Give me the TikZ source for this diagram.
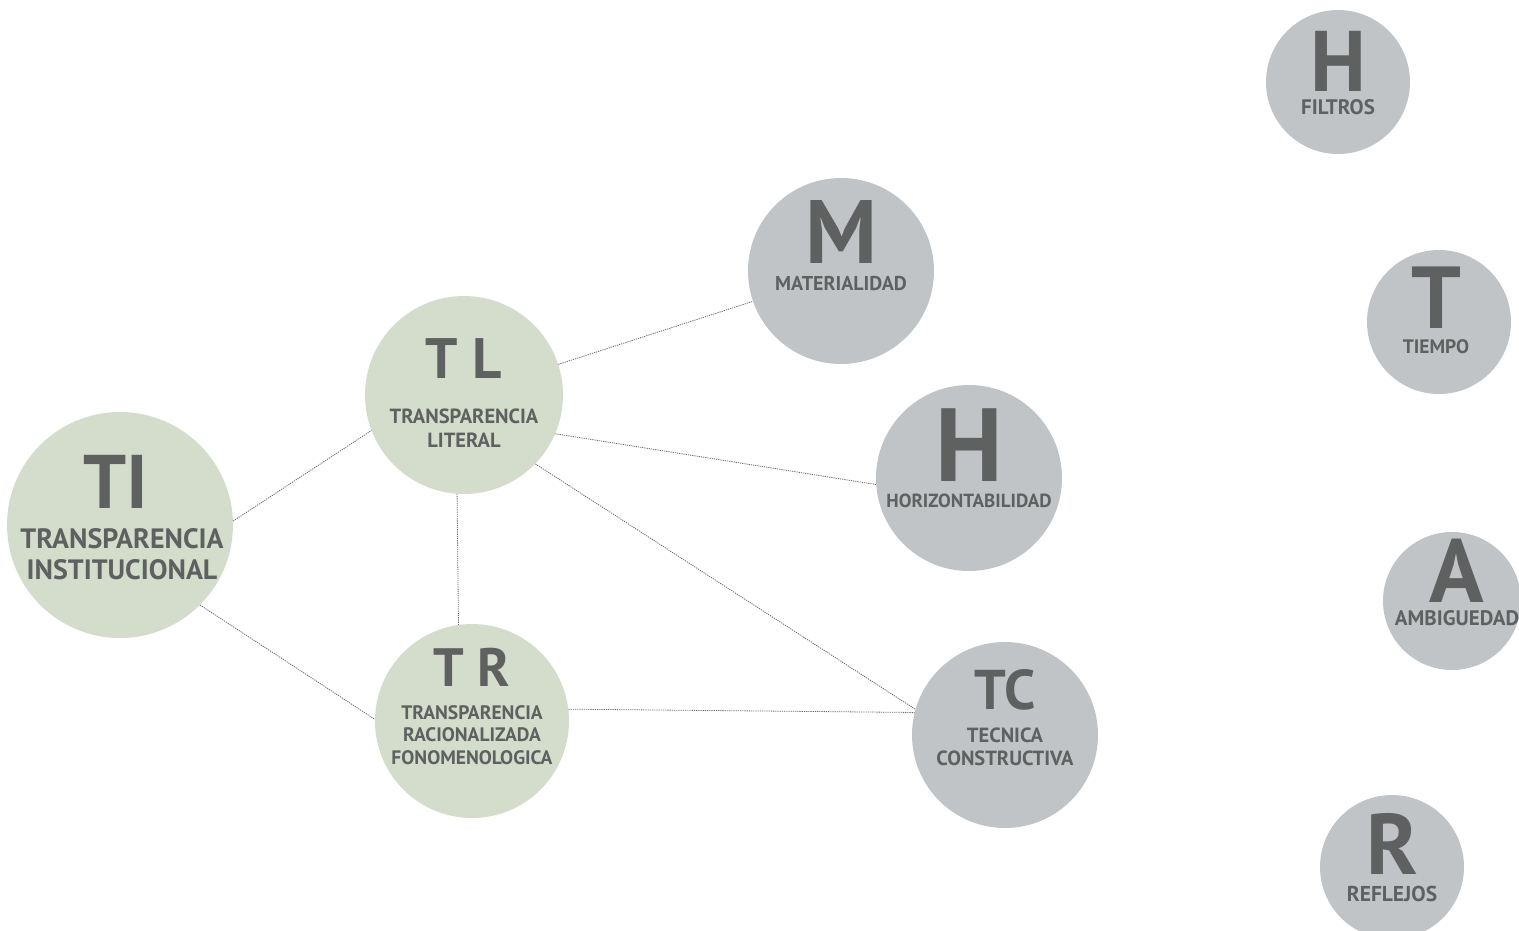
\documentclass[tikz,border=0pt]{standalone}
\usepackage{fontspec}
\setmainfont{PT Sans}
\usetikzlibrary{positioning}
\definecolor{sage}{HTML}{D4DDCC}
\definecolor{stone}{HTML}{C0C4C7}
\definecolor{ink}{HTML}{5F6060}
\definecolor{wire}{HTML}{666666}

\begin{document}
\begin{tikzpicture}[x=1pt,y=-1pt,
  greenball/.style={circle,fill=sage,inner sep=0pt,minimum size=#1},
  grayball/.style={circle,fill=stone,inner sep=0pt,minimum size=#1},
  bigtag/.style={font=\bfseries\fontsize{#1}{#1}\selectfont,text=ink,inner sep=0pt},
  subtag/.style 2 args={font=\bfseries\fontsize{#1}{#2}\selectfont,text=ink,align=center,inner sep=0pt},
  link/.style={draw=wire,line width=0.8pt,dash pattern=on 1.2pt off 1pt}]
\path[use as bounding box,clip] (0,0) rectangle (1519,930);
% circles
\node[greenball=226pt] (ti) at (120,525) {};
\node[greenball=198pt] (tl) at (464,395) {};
\node[greenball=194pt] (tr) at (472,721) {};
\node[grayball=186pt] (m) at (841,271) {};
\node[grayball=186pt] (h) at (969,478) {};
\node[grayball=186pt] (tc) at (1005,735) {};
\node[grayball=144pt] (hf) at (1338,82) {};
\node[grayball=144pt] (t) at (1439,322) {};
\node[grayball=138pt] (a) at (1452,601) {};
\node[grayball=144pt] (r) at (1392,867) {};
% labels
\node[bigtag=76pt] (ti-k) at ([xshift=-4pt,yshift=43.5pt]ti.center) {TI};
\node[subtag={28pt}{31pt}] (ti-s) at ([xshift=2pt,yshift=-29.5pt]ti.center) {TRANSPARENCIA\\INSTITUCIONAL};
\node[bigtag=57pt] (tl-k) at ([yshift=36pt]tl.center) {T L};
\node[subtag={20.5pt}{24pt}] (tl-s) at ([yshift=-33pt]tl.center) {TRANSPARENCIA\\LITERAL};
\node[bigtag=54pt] (tr-k) at ([yshift=54pt]tr.center) {T R};
\node[subtag={19.5pt}{22.5pt}] (tr-s) at ([yshift=-14pt]tr.center) {TRANSPARENCIA\\RACIONALIZADA\\FONOMENOLOGICA};
\node[bigtag=90pt] (m-k) at ([yshift=39pt]m.center) {M};
\node[subtag={20pt}{20pt}] (m-s) at ([yshift=-13pt]m.center) {MATERIALIDAD};
\node[bigtag=104pt] (h-k) at ([yshift=33pt]h.center) {H};
\node[subtag={19pt}{19pt}] (h-s) at ([yshift=-23pt]h.center) {HORIZONTABILIDAD};
\node[bigtag=56pt] (tc-k) at ([yshift=45pt]tc.center) {TC};
\node[subtag={20.5pt}{23pt}] (tc-s) at ([yshift=-11.5pt]tc.center) {TECNICA\\CONSTRUCTIVA};
\node[bigtag=86pt] (hf-k) at ([yshift=21pt]hf.center) {H};
\node[subtag={21pt}{21pt}] (hf-s) at ([yshift=-25pt]hf.center) {FILTROS};
\node[bigtag=88pt] (t-k) at ([xshift=-3pt,yshift=24pt]t.center) {T};
\node[subtag={19.5pt}{19.5pt}] (t-s) at ([xshift=-3pt,yshift=-25pt]t.center) {TIEMPO};
\node[bigtag=90pt] (a-k) at ([xshift=5pt,yshift=30pt]a.center) {A};
\node[subtag={21pt}{21pt}] (a-s) at ([xshift=5pt,yshift=-17pt]a.center) {AMBIGUEDAD};
\node[bigtag=86pt] (r-k) at ([yshift=23pt]r.center) {R};
\node[subtag={21.5pt}{21.5pt}] (r-s) at ([yshift=-27pt]r.center) {REFLEJOS};
% connectors
\draw[link] (ti.2) -- (tl.201);
\draw[link] (ti.315) -- (tr.179);
\draw[link] (tl.18) -- (m.199);
\draw[link] (tl.337) -- (h.184);
\draw[link] (tl.316) -- (tc.164);
\draw[link] (tl.266.5) -- (tr.98);
\draw[link] (tr.7) -- (tc.166);
\end{tikzpicture}
\end{document}
